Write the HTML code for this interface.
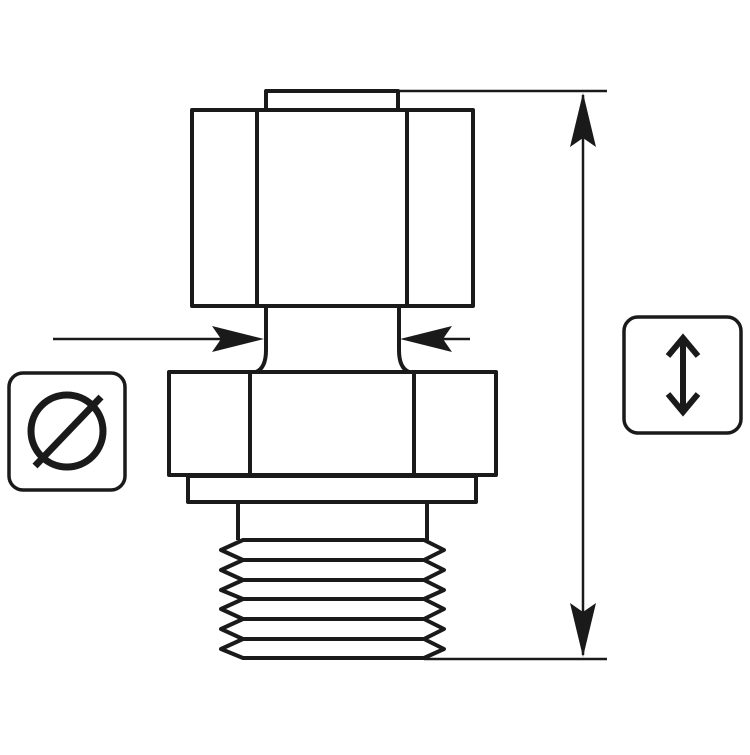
<!DOCTYPE html>
<html><head><style>html,body{margin:0;padding:0;background:#fff}</style></head>
<body>
<svg width="750" height="750" viewBox="0 0 750 750" xmlns="http://www.w3.org/2000/svg">
<g fill="none" stroke="#1a1a1a" stroke-width="4" stroke-linejoin="round">
  <!-- top cap -->
  <rect x="266" y="91" width="132" height="19" fill="#fff"/>
  <!-- upper nut -->
  <rect x="192" y="110" width="281" height="196" fill="#fff"/>
  <line x1="257" y1="110" x2="257" y2="306"/>
  <line x1="407" y1="110" x2="407" y2="306"/>
  <!-- neck -->
  <path d="M266 306 V350 Q266 368 256 372 M399 306 V350 Q399 368 409 372"/>
  <!-- lower nut -->
  <rect x="169" y="372" width="327" height="103" fill="#fff"/>
  <line x1="250" y1="372" x2="250" y2="475"/>
  <line x1="414" y1="372" x2="414" y2="475"/>
  <!-- washer -->
  <rect x="188" y="476" width="288" height="26" fill="#fff"/>
  <!-- shank -->
  <path d="M238 502 V540 M427 502 V540"/>
  <!-- threads -->
  <path d="M243 540 H424 L444 550 L424 560 L444 570 L424 580 L444 590 L424 599 L444 609 L424 619 L444 629 L424 639 L444 649 L424 658 H243 L221 649 L243 639 L221 629 L243 619 L221 609 L243 599 L221 590 L243 580 L221 570 L243 560 L221 550 Z" fill="#fff"/>
  <path d="M243 560 H424 M243 580 H424 M243 599 H424 M243 619 H424 M243 639 H424"/>
</g>
<g stroke="#1a1a1a" stroke-width="2.5">
  <line x1="398" y1="91" x2="607" y2="91"/>
  <line x1="424" y1="659" x2="607" y2="659"/>
  <line x1="583" y1="95" x2="583" y2="655"/>
  <line x1="53" y1="339" x2="240" y2="339"/>
  <line x1="420" y1="339" x2="470" y2="339"/>
</g>
<g fill="#1a1a1a">
  <path d="M583 93 L596 147 L583 138 L570 147 Z"/>
  <path d="M583 657 L596 603 L583 612 L570 603 Z"/>
  <path d="M264 339 L212 326 L221 339 L212 352 Z"/>
  <path d="M400 339 L452 326 L443 339 L452 352 Z"/>
</g>
<!-- diameter box -->
<rect x="9" y="373" width="116" height="117" rx="14" fill="none" stroke="#1a1a1a" stroke-width="3.5"/>
<circle cx="67" cy="431" r="36" fill="none" stroke="#1a1a1a" stroke-width="7"/>
<line x1="35" y1="466" x2="101" y2="397" stroke="#1a1a1a" stroke-width="7"/>
<!-- length box -->
<rect x="624" y="317" width="117" height="116" rx="14" fill="none" stroke="#1a1a1a" stroke-width="3.5"/>
<line x1="683" y1="340" x2="683" y2="410" stroke="#1a1a1a" stroke-width="6"/>
<path d="M668 356 L683 338 L698 356 M668 394 L683 412 L698 394" fill="none" stroke="#1a1a1a" stroke-width="6"/>
</svg>
</body></html>
